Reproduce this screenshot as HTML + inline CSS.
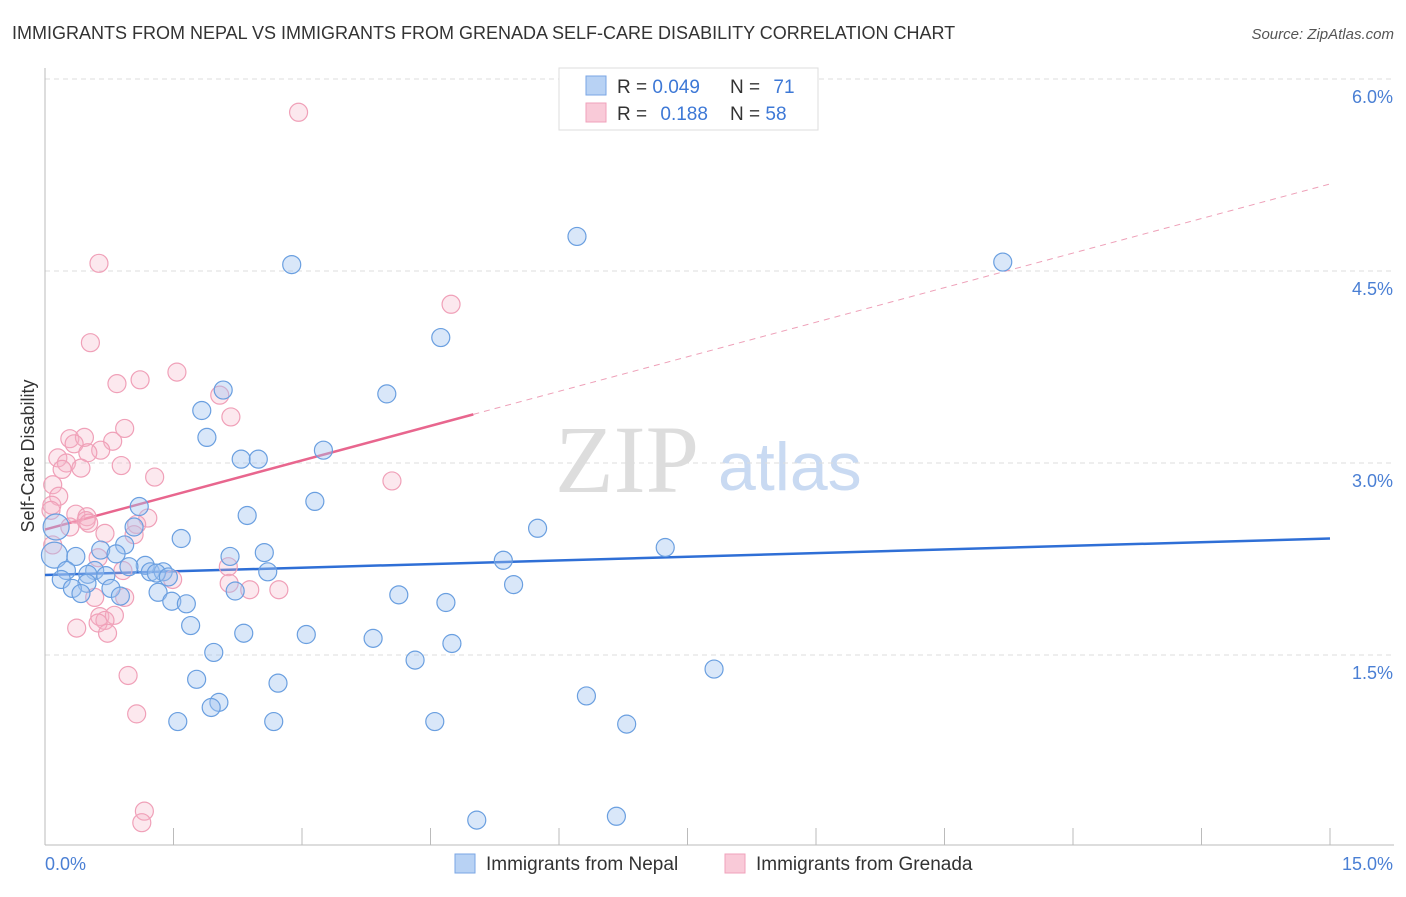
<!DOCTYPE html>
<html><head><meta charset="utf-8"><style>
body{margin:0;background:#fff;font-family:"Liberation Sans",sans-serif}
</style></head><body>
<svg width="1406" height="892" xmlns="http://www.w3.org/2000/svg" font-family="Liberation Sans, sans-serif">
<text x="12" y="39" font-size="18" fill="#333">IMMIGRANTS FROM NEPAL VS IMMIGRANTS FROM GRENADA SELF-CARE DISABILITY CORRELATION CHART</text>
<text x="1394" y="39" font-size="15" fill="#555" font-style="italic" text-anchor="end">Source: ZipAtlas.com</text>
<g>
<text x="555" y="492" font-size="96" fill="#ddd" font-family="Liberation Serif, serif">ZIP</text>
<text x="718" y="490" font-size="68" fill="#c9daf2">atlas</text>
</g>
<g id="grid"></g>
<g id="axes"></g>
<g id="trends"></g>
<g id="points"></g>
<text transform="translate(34,456) rotate(-90)" font-size="18" fill="#333" text-anchor="middle">Self-Care Disability</text>
<text x="45" y="870" font-size="18" fill="#4a7fd4">0.0%</text>
<text x="1393" y="870" font-size="18" fill="#4a7fd4" text-anchor="end">15.0%</text>
<g>
<rect x="559" y="68" width="259" height="62" fill="#fff" stroke="#ddd"/>
<rect x="586" y="76" width="20" height="19" fill="#b8d2f4" stroke="#7aa6e4"/>
<rect x="586" y="103" width="20" height="19" fill="#f9cad8" stroke="#f0a2bb"/>
<text x="617" y="93" font-size="19" fill="#333">R = <tspan fill="#3d78d6">0.049</tspan></text>
<text x="730" y="93" font-size="19" fill="#333">N = <tspan fill="#3d78d6" dx="8">71</tspan></text>
<text x="617" y="120" font-size="19" fill="#333">R = <tspan fill="#3d78d6" dx="8">0.188</tspan></text>
<text x="730" y="120" font-size="19" fill="#333">N = <tspan fill="#3d78d6">58</tspan></text>
</g>
<g>
<rect x="455" y="854" width="20" height="19" fill="#b8d2f4" stroke="#7aa6e4"/>
<text x="486" y="870" font-size="19" fill="#333">Immigrants from Nepal</text>
<rect x="725" y="854" width="20" height="19" fill="#f9cad8" stroke="#f0a2bb"/>
<text x="756" y="870" font-size="19" fill="#333">Immigrants from Grenada</text>
</g>
</svg>
<script>
const yTicks=[1.5,3.0,4.5,6.0];
const yTickLabels=["1.5%","3.0%","4.5%","6.0%"];
const xTicks=[0,1.5,3,4.5,6,7.5,9,10.5,12,13.5,15];
const nepalX=[6.21,11.18,2.88,4.62,2.08,3.99,1.83,1.89,3.25,2.29,2.49,3.15,2.36,1.10,5.75,1.04,0.13,1.59,0.93,7.24,0.65,2.56,0.11,2.16,0.36,0.83,5.35,1.17,0.98,0.58,0.25,1.23,1.38,2.60,1.30,0.50,0.71,1.44,0.19,0.49,5.47,0.32,2.22,0.77,1.32,0.42,0.88,4.13,1.48,4.68,1.65,1.70,2.32,3.05,3.83,4.75,1.97,4.32,7.81,1.77,2.72,6.32,2.03,1.94,1.55,2.67,4.55,6.79,5.04,6.67];
const nepalY=[4.77,4.57,4.55,3.98,3.57,3.54,3.41,3.20,3.10,3.03,3.03,2.70,2.59,2.66,2.49,2.50,2.50,2.41,2.36,2.34,2.32,2.30,2.28,2.27,2.27,2.29,2.24,2.20,2.19,2.16,2.16,2.15,2.15,2.15,2.14,2.13,2.12,2.11,2.09,2.06,2.05,2.02,2.00,2.02,1.99,1.98,1.96,1.97,1.92,1.91,1.90,1.73,1.67,1.66,1.63,1.59,1.52,1.46,1.39,1.31,1.28,1.18,1.13,1.09,0.98,0.98,0.98,0.96,0.21,0.24];
const grenadaX=[2.96,0.63,4.74,0.53,1.54,1.11,0.84,2.04,2.17,0.93,0.29,0.46,0.79,0.34,0.65,0.50,0.15,0.25,0.89,0.42,0.20,1.28,4.05,0.09,0.16,0.08,0.07,0.36,0.49,1.20,0.48,0.51,1.07,0.29,0.70,1.04,0.09,0.62,2.14,0.91,1.49,2.15,2.39,2.73,0.58,0.93,0.64,0.81,0.70,0.62,0.73,0.37,0.97,1.07,1.16,1.13];
const grenadaY=[5.74,4.56,4.24,3.94,3.71,3.65,3.62,3.53,3.36,3.27,3.19,3.20,3.17,3.15,3.10,3.08,3.04,3.00,2.98,2.96,2.95,2.89,2.86,2.83,2.74,2.67,2.63,2.60,2.58,2.57,2.55,2.53,2.52,2.50,2.45,2.44,2.36,2.26,2.19,2.16,2.09,2.06,2.01,2.01,1.95,1.95,1.80,1.81,1.77,1.75,1.67,1.71,1.34,1.04,0.28,0.19];
const nepalTrend=[2.125,2.41];
const grenadaTrend=[2.48,5.18];
const grenadaSolidEnd=5.0;
const NS="http://www.w3.org/2000/svg";
const X=v=>45+v*(1285/15), Y=v=>847-v*128;
function mk(t,a,p){const e=document.createElementNS(NS,t);for(const k in a)e.setAttribute(k,a[k]);document.getElementById(p).appendChild(e);return e;}
yTicks.forEach((t,i)=>{
 const l=mk('line',{x1:45,x2:1394,y1:Y(t),y2:Y(t),stroke:'#ddd','stroke-dasharray':'5,4'},'grid');
 
 
 const tx=mk('text',{x:1393,y:Y(t)+24,'font-size':18,fill:'#4a7fd4','text-anchor':'end'},'grid');
 tx.textContent=yTickLabels[i];
 
 
});
const ax=mk('line',{x1:45,x2:45,y1:68,y2:845,stroke:'#bbb'},'axes');


const bx=mk('line',{x1:45,x2:1394,y1:845,y2:845,stroke:'#bbb'},'axes');


xTicks.forEach(t=>{
 const l=mk('line',{x1:X(t),x2:X(t),y1:828,y2:845,stroke:'#bbb'},'axes');
 
 
});
function pts(xs,ys,fill,stroke,name){
 xs.forEach((x,i)=>{
  const big=(name==='nepal-point'&&x<0.2&&ys[i]>2.2);
  const c=mk('circle',{cx:X(x),cy:Y(ys[i]),r:big?13:9,fill:fill,stroke:stroke,'stroke-width':1.2},'points');
  
  
 });
}
pts(grenadaX,grenadaY,'rgba(246,178,200,0.3)','#f0a0b8','grenada-point');
pts(nepalX,nepalY,'rgba(160,195,240,0.4)','#6a9fe0','nepal-point');
const t1=mk('line',{x1:X(0),y1:Y(nepalTrend[0]),x2:X(15),y2:Y(nepalTrend[1]),stroke:'#2f6fd6','stroke-width':2.5},'trends');


const slope=(grenadaTrend[1]-grenadaTrend[0])/15;
const t2=mk('line',{x1:X(0),y1:Y(grenadaTrend[0]),x2:X(grenadaSolidEnd),y2:Y(grenadaTrend[0]+slope*grenadaSolidEnd),stroke:'#e8668e','stroke-width':2.5},'trends');


const t3=mk('line',{x1:X(grenadaSolidEnd),y1:Y(grenadaTrend[0]+slope*grenadaSolidEnd),x2:X(15),y2:Y(grenadaTrend[1]),stroke:'#eea0b8','stroke-width':1,'stroke-dasharray':'6,5'},'trends');


</script>
</body></html>
